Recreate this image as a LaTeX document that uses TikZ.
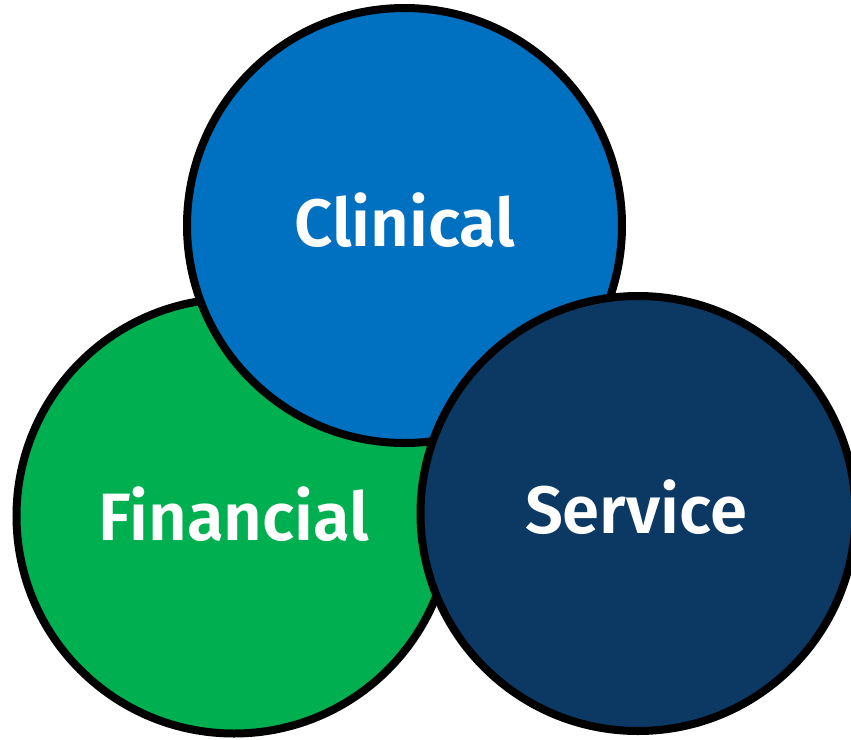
\documentclass[tikz,border=0pt]{standalone}
\usepackage{fontspec}
\setmainfont{Fira Sans}[BoldFont={Fira Sans SemiBold}]
\definecolor{clinblue}{RGB}{0,112,192}
\definecolor{fingreen}{RGB}{0,176,80}
\definecolor{servnavy}{RGB}{11,57,100}
\begin{document}
\begin{tikzpicture}[x=1pt,y=-1pt,
  venn/.style={circle,draw=black,line width=8pt,minimum size=435pt,inner sep=0pt},
  lbl/.style={text=white,font=\fontsize{67}{80}\selectfont\bfseries,anchor=base}]
\useasboundingbox (0,0) rectangle (851,739);
\node[venn,fill=fingreen] (fin) at (234,516) {};
\node[venn,fill=clinblue] (clin) at (404.5,225.5) {};
\node[venn,fill=servnavy] (serv) at (638,513.5) {};
\node[lbl] (tclin) at (405,246) {Clinical};
\node[lbl] (tfin) at (234,540) {Financial};
\node[lbl] (tserv) at (636,533) {Service};
\end{tikzpicture}
\end{document}
